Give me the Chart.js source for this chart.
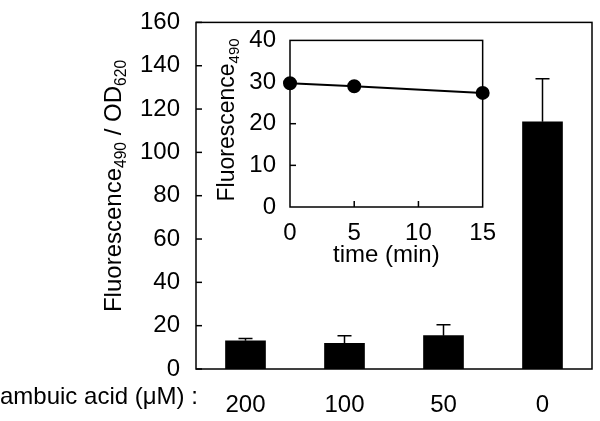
<!DOCTYPE html>
<html>
<head>
<meta charset="utf-8">
<script src="https://cdn.jsdelivr.net/npm/chart.js@4"></script>
<style>
body { margin: 0; background: #fff; }
#wrap { position: relative; width: 600px; height: 421px; }
#main { position: absolute; left: 0; top: 0; }
#inset { position: absolute; left: 215px; top: 20px; }
</style>
</head>
<body>
<div id="wrap">
<canvas id="main" width="600" height="421"></canvas>
<canvas id="inset" width="285" height="250"></canvas>
</div>
<script>
const doses = ['200', '100', '50', '0']
const fluor = [13.0, 11.9, 15.4, 114.1]
const fluorErr = [14.1, 15.4, 20.4, 134.0]
const mainTicks = [0, 20, 40, 60, 80, 100, 120, 140, 160]

const times = [0, 5, 15]
const insetFluor = [29.7, 29.0, 27.4]

const FONT = 'Liberation Sans, Arial, sans-serif'
Chart.defaults.font.family = FONT
Chart.defaults.color = '#000'

// text with subscript parts, e.g. [['Fluorescence', 0], ['490', 1]]
function subText(ctx, parts, x, y, size, rot) {
    ctx.save()
    ctx.translate(x, y)
    ctx.rotate(rot)
    let total = 0
    parts.forEach(p => {
        ctx.font = (p[1] ? size * 0.65 : size) + 'px ' + FONT
        total += ctx.measureText(p[0]).width
    })
    let cx = -total / 2
    ctx.textBaseline = 'middle'
    ctx.fillStyle = '#000'
    parts.forEach(p => {
        ctx.font = (p[1] ? size * 0.65 : size) + 'px ' + FONT
        ctx.fillText(p[0], cx, p[1] ? size * 0.3 : 0)
        cx += ctx.measureText(p[0]).width
    })
    ctx.restore()
}

function frame(ctx, a) {
    ctx.save()
    ctx.strokeStyle = '#000'
    ctx.lineWidth = 1.5
    ctx.strokeRect(a.left, a.top, a.right - a.left, a.bottom - a.top)
    ctx.restore()
}

const mainDeco = {
    id: 'mainDeco',
    afterDatasetsDraw(chart) {
        const ctx = chart.ctx, a = chart.chartArea
        const y = chart.scales.y, x = chart.scales.x
        frame(ctx, a)
        ctx.save()
        ctx.strokeStyle = '#000'
        ctx.lineWidth = 1.5
        mainTicks.forEach(v => {
            const py = y.getPixelForValue(v)
            ctx.beginPath(); ctx.moveTo(a.left, py); ctx.lineTo(a.left + 6, py); ctx.stroke()
        })
        // upper error bars
        fluorErr.forEach((e, i) => {
            const px = x.getPixelForValue(i)
            const p0 = y.getPixelForValue(fluor[i]), p1 = y.getPixelForValue(e)
            ctx.beginPath(); ctx.moveTo(px, p0); ctx.lineTo(px, p1)
            ctx.moveTo(px - 7, p1); ctx.lineTo(px + 7, p1); ctx.stroke()
        })
        ctx.fillStyle = '#000'
        ctx.font = '24px ' + FONT
        ctx.textAlign = 'left'
        ctx.textBaseline = 'middle'
        ctx.fillText('ambuic acid (\u03bcM) :', 0, 397)
        ctx.restore()
        subText(ctx, [['Fluorescence', 0], ['490', 1], [' / OD', 0], ['620', 1]], 114, 186, 24, -Math.PI / 2)
    }
}

new Chart(document.getElementById('main'), {
    type: 'bar',
    data: {
        labels: doses,
        datasets: [{ data: fluor, backgroundColor: '#000', barThickness: 40 }]
    },
    options: {
        responsive: false,
        animation: false,
        layout: { autoPadding: false, padding: { top: 3, right: 8 } },
        plugins: { legend: { display: false }, tooltip: { enabled: false } },
        scales: {
            x: {
                grid: { display: false },
                border: { display: false },
                ticks: { font: { size: 24 }, padding: 14 },
                afterFit(s) { s.height = 52 }
            },
            y: {
                min: 0, max: 160,
                afterBuildTicks(s) { s.ticks = mainTicks.map(v => ({ value: v })) },
                grid: { display: false },
                border: { display: false },
                ticks: { font: { size: 24 }, padding: 8 },
                afterFit(s) { s.width = 196 }
            }
        }
    },
    plugins: [mainDeco]
})

const insetDeco = {
    id: 'insetDeco',
    afterDraw(chart) {
        const ctx = chart.ctx, a = chart.chartArea
        const x = chart.scales.x, y = chart.scales.y
        frame(ctx, a)
        ctx.save()
        ctx.strokeStyle = '#000'
        ctx.lineWidth = 1.5
        ;[10, 20, 30].forEach(v => {
            const py = y.getPixelForValue(v)
            ctx.beginPath(); ctx.moveTo(a.left, py); ctx.lineTo(a.left + 6, py); ctx.stroke()
        })
        ;[5, 10].forEach(v => {
            const px = x.getPixelForValue(v)
            ctx.beginPath(); ctx.moveTo(px, a.bottom); ctx.lineTo(px, a.bottom - 6); ctx.stroke()
        })
        ctx.restore()
        subText(ctx, [['Fluorescence', 0], ['490', 1]], 13, 100, 23, -Math.PI / 2)
    }
}

new Chart(document.getElementById('inset'), {
    type: 'line',
    data: {
        datasets: [{
            data: times.map((t, i) => ({ x: t, y: insetFluor[i] })),
            borderColor: '#000', borderWidth: 2,
            pointBackgroundColor: '#000', pointBorderColor: '#000', pointRadius: 6
        }]
    },
    options: {
        responsive: false,
        animation: false,
        clip: false,
        layout: { autoPadding: false, padding: { top: 12, right: 13 } },
        plugins: { legend: { display: false }, tooltip: { enabled: false } },
        scales: {
            x: {
                type: 'linear', min: 0, max: 15,
                ticks: { stepSize: 5, font: { size: 24 }, padding: 4 },
                grid: { display: false },
                border: { display: false },
                title: { display: true, text: 'time (min)', font: { size: 24 }, padding: 0 },
                afterFit(s) { s.height = 63 }
            },
            y: {
                min: 0, max: 40,
                ticks: { stepSize: 10, font: { size: 24 }, padding: 6 },
                grid: { display: false },
                border: { display: false },
                afterFit(s) { s.width = 75 }
            }
        }
    },
    plugins: [insetDeco]
})
</script>
</body>
</html>
